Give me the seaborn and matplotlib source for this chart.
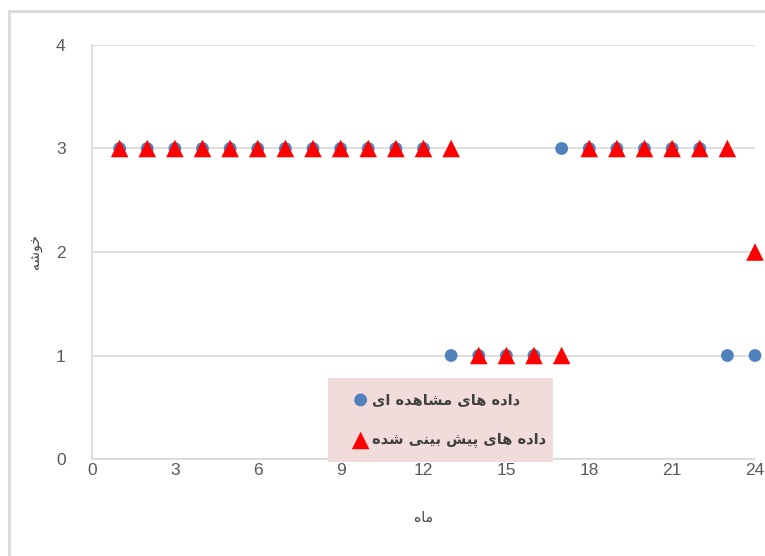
import numpy as np
import pandas as pd
import matplotlib
matplotlib.use("Agg")
import matplotlib.pyplot as plt
import seaborn as sns
from matplotlib.patches import Rectangle

months = list(range(1, 25))
observed = [3, 3, 3, 3, 3, 3, 3, 3, 3, 3, 3, 3, 1, 1, 1, 1, 3, 3, 3, 3, 3, 3, 1, 1]
predicted = [3, 3, 3, 3, 3, 3, 3, 3, 3, 3, 3, 3, 3, 1, 1, 1, 1, 3, 3, 3, 3, 3, 3, 2]
x_ticks = [0, 3, 6, 9, 12, 15, 18, 21, 24]
y_ticks = [0, 1, 2, 3, 4]

# Persian labels in pre-shaped visual order (matplotlib has no bidi shaping)
label_obs = "\uFBFC\uFE8D \uFEE9\uFEAA\uFEEB\uFE8E\uFEB8\uFEE3 \uFBFC\uFE8E\uFEEB \uFEE9\uFEA9\uFE8D\uFEA9"
label_pred = "\uFEE9\uFEAA\uFEB7 \uFBFD\uFEE8\uFBFF\uFE91 \uFEB6\uFBFF\uFB58 \uFBFC\uFE8E\uFEEB \uFEE9\uFEA9\uFE8D\uFEA9"
x_label = "\uFEE9\uFE8E\uFEE3"
y_label = "\uFEEA\uFEB7\uFEEE\uFEA7"

df_obs = pd.DataFrame({"month": months, "value": observed})
df_pred = pd.DataFrame({"month": months, "value": predicted})

sns.set_style("white")
plt.rcParams["font.family"] = ["DejaVu Sans"]

fig = plt.figure(figsize=(7.65, 5.56), dpi=100)
ax = fig.add_axes([92 / 765, 1 - 459 / 556, (755 - 92) / 765, (459 - 45) / 556])

sns.scatterplot(data=df_obs, x="month", y="value", ax=ax, marker="o", s=85,
                color="#4F81BD", edgecolor="none", label=label_obs, zorder=3,
                clip_on=False)
sns.scatterplot(data=df_pred, x="month", y="value", ax=ax, marker="^", s=160,
                color="#FF0000", edgecolor="none", label=label_pred, zorder=4,
                clip_on=False)

ax.set_xlim(0, 24)
ax.set_ylim(0, 4)
ax.set_xticks(x_ticks)
ax.set_yticks(y_ticks)
ax.yaxis.grid(True, color="#D9D9D9", lw=1.2)
ax.xaxis.grid(False)
ax.set_axisbelow(True)
for side in ["top", "right"]:
    ax.spines[side].set_visible(False)
ax.spines["left"].set_color("#D9D9D9")
ax.spines["bottom"].set_color("#D9D9D9")
ax.spines["left"].set_linewidth(1.2)
ax.spines["bottom"].set_linewidth(1.2)
ax.tick_params(axis="x", length=0, labelsize=12.5, labelcolor="#595959", pad=3)
ax.tick_params(axis="y", length=0, labelsize=12.5, labelcolor="#595959", pad=19)
for t in ax.get_xticklabels() + ax.get_yticklabels():
    t.set_fontfamily("Liberation Sans")

ax.set_xlabel(x_label, fontsize=10, color="#404040", labelpad=24)
ax.set_ylabel(y_label, fontsize=10, color="#404040", labelpad=10)

# legend background box
bg = Rectangle((0.356, -0.008), 0.339, 0.204, transform=ax.transAxes,
               facecolor="#F2DCDB", edgecolor="none", clip_on=False, zorder=5)
ax.add_patch(bg)

leg = ax.legend(loc="center left", bbox_to_anchor=(0.392, 0.094),
                markerfirst=True, frameon=False,
                prop={"size": 10.5, "weight": "bold"}, labelspacing=1.75,
                borderpad=0, handletextpad=0.2, borderaxespad=0,
                handlelength=1.2)
for t in leg.get_texts():
    t.set_color("#404040")
leg.set_zorder(6)

fig.patches.append(Rectangle((9 / 765, -0.1), 1.1, 1 - 11 / 556 + 0.1,
                             transform=fig.transFigure, fill=False,
                             edgecolor="#D9D9D9", lw=2))

fig.savefig("out.png", dpi=100)
